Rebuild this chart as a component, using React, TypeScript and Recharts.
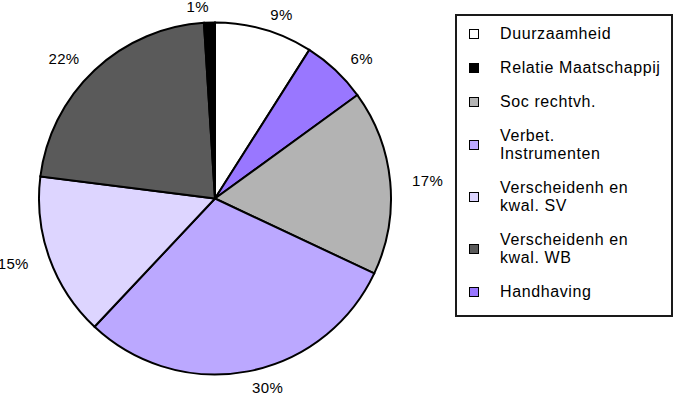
import { PieChart, Pie, Cell, Legend } from "recharts";

// slices clockwise from the top
const sliceNames = [
  "Duurzaamheid",
  "Handhaving",
  "Soc rechtvh.",
  "Verbet. Instrumenten",
  "Verscheidenh en kwal. SV",
  "Verscheidenh en kwal. WB",
  "Relatie Maatschappij",
];
const sliceValues = [9, 6, 17, 30, 15, 22, 1];
const sliceColors = ["#FFFFFF", "#9977FF", "#B3B3B3", "#BBA8FF", "#DDD5FF", "#5A5A5A", "#000000"];

// legend order with line breaks as in the original
const legendNames = [
  "Duurzaamheid",
  "Relatie Maatschappij",
  "Soc rechtvh.",
  "Verbet. Instrumenten",
  "Verscheidenh en kwal. SV",
  "Verscheidenh en kwal. WB",
  "Handhaving",
];
const legendLines = [
  ["Duurzaamheid"],
  ["Relatie Maatschappij"],
  ["Soc rechtvh."],
  ["Verbet.", "Instrumenten"],
  ["Verscheidenh en", "kwal. SV"],
  ["Verscheidenh en", "kwal. WB"],
  ["Handhaving"],
];

const data = sliceNames.map((name, i) => ({ name, value: sliceValues[i] }));

const FONT = '"Liberation Sans", Arial, sans-serif';
const RAD = Math.PI / 180;

// percentage labels outside the pie
const renderLabel = (props: any) => {
  const { cx, cy, midAngle, outerRadius, percent } = props;
  const cos = Math.cos(-midAngle * RAD);
  const sin = Math.sin(-midAngle * RAD);
  const x = cx + (outerRadius + 22) * cos;
  const y = cy + (outerRadius + 16) * sin;
  return (
    <text
      x={x}
      y={y}
      textAnchor={cos >= 0 ? "start" : "end"}
      dominantBaseline="central"
      fontFamily={FONT}
      fontSize={15}
      letterSpacing={0.3}
      fill="#000">
      {`${Math.round(percent * 100)}%`}
    </text>
  );
};

const LegendBox = () => (
  <div
    style={{
      boxSizing: "border-box",
      width: 218,
      height: 303,
      border: "2px solid #1a1a1a",
      background: "#fff",
      padding: "9px 0 0 0",
      fontFamily: FONT,
      fontSize: 16,
      letterSpacing: 0.6,
      color: "#000",
    }}>
    {legendNames.map((name, i) => {
      const color = sliceColors[sliceNames.indexOf(name)];
      return (
        <div
          key={name}
          style={{ display: "flex", alignItems: "center", marginBottom: 16 }}>
          <div
            style={{
              width: 8,
              height: 8,
              marginLeft: 12,
              marginRight: 21,
              background: color,
              border: "1.5px solid #000",
            }}
          />
          <div style={{ lineHeight: "18px" }}>
            {legendLines[i].map((l) => (
              <div key={l}>{l}</div>
            ))}
          </div>
        </div>
      );
    })}
  </div>
);

export default function App() {
  return (
    <div style={{ position: "absolute", left: 0, top: 0, background: "#fff" }}>
      <PieChart
        width={675}
        height={394}
        margin={{ top: 0, right: 0, bottom: 0, left: 0 }}>
        <Pie
          data={data}
          dataKey="value"
          nameKey="name"
          cx={215}
          cy={198.5}
          outerRadius={176}
          startAngle={90}
          endAngle={-270}
          stroke="#000"
          strokeWidth={2}
          label={renderLabel}
          labelLine={false}
          isAnimationActive={false}>
          {data.map((entry, index) => (
            <Cell key={`cell-${index}`} fill={sliceColors[index]} />
          ))}
        </Pie>
        <Legend
          content={<LegendBox />}
          wrapperStyle={{ left: 455, top: 14, width: 218, height: 303 }}
        />
      </PieChart>
    </div>
  );
}
